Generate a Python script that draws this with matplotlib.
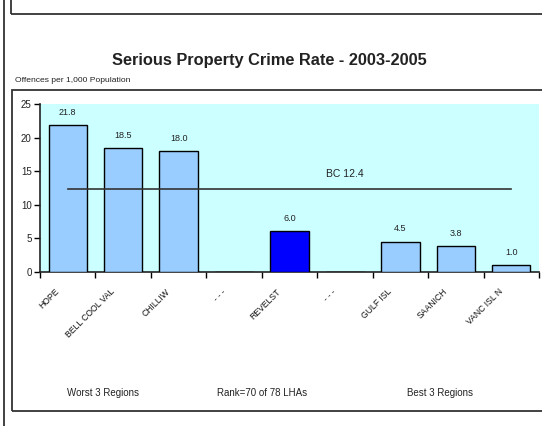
import numpy as np
import matplotlib.pyplot as plt
from matplotlib.patches import Rectangle
from matplotlib.lines import Line2D
from matplotlib.transforms import ScaledTranslation

plt.rcParams['font.family'] = ['Liberation Sans', 'DejaVu Sans']

regions = ["HOPE", "BELL COOL VAL", "CHILLIW", "- - -", "REVELST", "- - -",
           "GULF ISL", "SAANICH", "VANC ISL N"]
rates = [21.8, 18.5, 18.0, np.nan, 6.0, np.nan, 4.5, 3.8, 1.0]
highlight = "REVELST"
bc_rate = 12.4
group_labels = ["Worst 3 Regions", "Rank=70 of 78 LHAs", "Best 3 Regions"]

W, H = 542, 426
fig = plt.figure(figsize=(W / 100, H / 100), dpi=100)

# frames around the page elements (pixel coords converted to figure fraction)
def px_rect(x0, y0, x1, y1, lw=1.3):
    fig.add_artist(Rectangle((x0 / W, 1 - y1 / H), (x1 - x0) / W, (y1 - y0) / H,
                             transform=fig.transFigure, fill=False,
                             edgecolor='#333333', linewidth=lw))

fig.add_artist(Line2D([3.5 / W, 3.5 / W], [0, 1], transform=fig.transFigure,
                      color='#333333', linewidth=1.3))
px_rect(11, -20, 560, 14)
px_rect(12, 90, 560, 411)

ax = fig.add_axes([40 / W, 1 - 271.7 / H, (539 - 40) / W, (271.7 - 104) / H])
ax.set_facecolor('#CCFFFF')

x = np.arange(len(regions))
colors = ['#0000FF' if r == highlight else '#99CCFF' for r in regions]
vals = np.nan_to_num(rates)
ax.bar(x, vals, width=0.69, color=colors, edgecolor='black', linewidth=1.0, zorder=3)

for xi, v in zip(x, rates):
    if not np.isnan(v):
        ax.text(xi, v + 1.2, f"{v:.1f}", ha='center', va='bottom', fontsize=6.5,
                color='#222222')

ax.plot([x[0], x[-1]], [bc_rate, bc_rate], color='#333333', linewidth=1.2, zorder=4)
ax.text(5, bc_rate + 1.4, f"BC {bc_rate}", ha='center', va='bottom', fontsize=7.5,
        color='#222222')

ax.set_xlim(-0.5, len(regions) - 0.5)
ax.set_ylim(0, 25)
ax.set_yticks(range(0, 26, 5))
ax.tick_params(axis='y', labelsize=7, length=4, width=1, direction='out', pad=2,
               labelcolor='#222222')

ax.set_xticks(np.arange(-0.5, len(regions), 1.0))
ax.set_xticklabels([])
ax.tick_params(axis='x', which='major', length=4, width=1, direction='out')
ax.set_xticks(x, minor=True)
ax.set_xticklabels(regions, minor=True, rotation=45, ha='right',
                   rotation_mode='anchor', fontsize=6.2, color='#111111')
ax.tick_params(axis='x', which='minor', length=0, pad=9)
# nudge the slanted labels so their ends sit just left of each category
shift = ScaledTranslation(-13 / 100, -3 / 100, fig.dpi_scale_trans)
for lbl in ax.get_xticklabels(minor=True):
    lbl.set_transform(lbl.get_transform() + shift)

for s in ['top', 'right']:
    ax.spines[s].set_visible(False)
for s in ['left', 'bottom']:
    ax.spines[s].set_linewidth(1.2)
    ax.spines[s].set_color('#222222')

fig.text(269 / W, 1 - 60 / H, "Serious Property Crime Rate - 2003-2005",
         ha='center', va='center', fontsize=11.8, fontweight='bold', color='#222222')
fig.text(15 / W, 1 - 80 / H, "Offences per 1,000 Population", ha='left',
         va='center', fontsize=6.1, color='#222222')

for gx, lbl in zip([103, 262, 440], group_labels):
    fig.text(gx / W, 1 - 393 / H, lbl, ha='center', va='center', fontsize=7,
             color='#222222')

fig.savefig("out.png", dpi=100)
